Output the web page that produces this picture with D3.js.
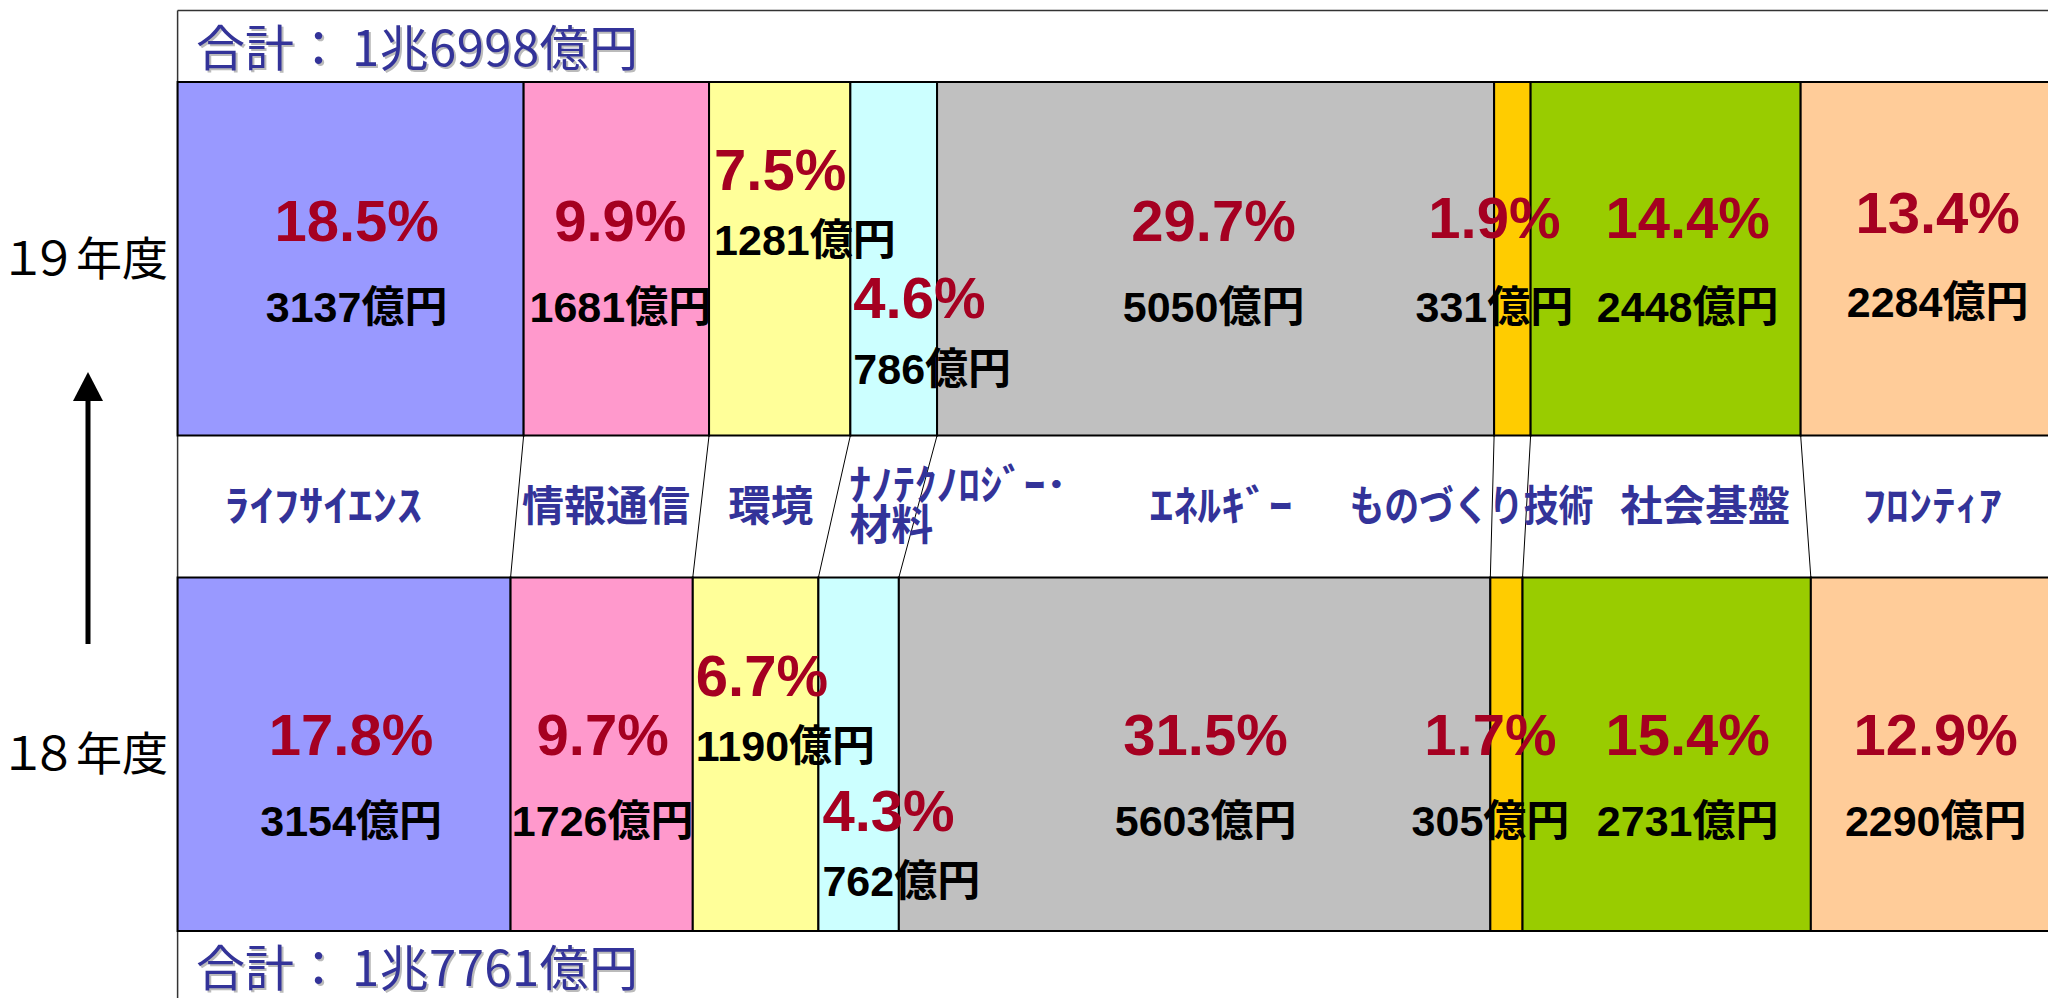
<!DOCTYPE html>
<html><head><meta charset="utf-8">
<script src="https://cdn.jsdelivr.net/npm/d3@7"></script>
<style>html,body{margin:0;padding:0;background:#fff;overflow:hidden}</style>
</head><body><svg id="chart" width="2048" height="998"></svg>
<script>
// ---------- data ----------
const categories = ["ライフサイエンス","情報通信","環境","ナノテクノロジー・材料","エネルギー","ものづくり技術","社会基盤","フロンティア"];
const categoryLabels = [["ﾗｲﾌｻｲｴﾝｽ"],["情報通信"],["環境"],["ﾅﾉﾃｸﾉﾛｼﾞｰ･","材料"],["ｴﾈﾙｷﾞｰ"],["ものづくり技術"],["社会基盤"],["ﾌﾛﾝﾃｨｱ"]];
const years = ["１９年度","１８年度"];
const values19 = [3137,1681,1281,786,5050,331,2448,2284];
const values18 = [3154,1726,1190,762,5603,305,2731,2290];
const shares19 = ["18.5%","9.9%","7.5%","4.6%","29.7%","1.9%","14.4%","13.4%"];
const shares18 = ["17.8%","9.7%","6.7%","4.3%","31.5%","1.7%","15.4%","12.9%"];
const totalLabels = ["1兆6998億円","1兆7761億円"];
const unit = "億円";

// ---------- style / layout ----------
const colors = ["#9999FF","#FF99CC","#FFFF99","#CCFFFF","#C0C0C0","#FFCC00","#99CC00","#FFCC99"];
const labelLayout = [
  [{dx:6},{dx:4},{anchor:"start",dx:5,dyP:-51,dyV:-67},{anchor:"start",dx:3,dyP:77,dyV:62},{dx:-2},{dx:-18,dyP:-3},{dx:22,dyP:-3},{dx:11,dyP:-8,dyV:-5}],
  [{dx:7},{dx:1},{anchor:"start",dx:3,dyP:-59,dyV:-75},{anchor:"start",dx:4,dyP:76,dyV:60},{dx:11},{dx:-16},{dx:21},{dx:4}]
];
const pctBaseDy = [-17.5, 0.5];
const valGap = 81;
const catLayout = [{dx:-24,w:197},{dx:-3,w:168},{dx:3,w:85},{anchor:"start",dx:15,w:[218,84]},{dx:16,w:143},{dx:-38,w:244},{dx:39,w:170},{dx:3,w:139}];
const yearCharX = [0, 31, 76, 122];

const svg = d3.select("#chart");
const X0 = 177.6, X1 = 2052.6;
const series = [values19, values18];
const shares = [shares19, shares18];

const y = d3.scaleBand().domain(years).range([82, 931]).paddingInner(0.2866).paddingOuter(0);
const bw = y.bandwidth();

const rows = series.map((vals, i) => {
  const total = d3.sum(vals);
  const x = d3.scaleLinear().domain([0, total]).range([X0, X1]);
  let cum = 0;
  const segs = vals.map((v, j) => { const s = {j, v, x0: x(cum), x1: x(cum + v)}; cum += v; return s; });
  return {year: years[i], x, segs, total};
});

// frame
svg.append("line").attr("x1", X0).attr("x2", 2048).attr("y1", 10.5).attr("y2", 10.5).attr("stroke", "#333").attr("stroke-width", 1.5);
svg.append("line").attr("x1", X0).attr("x2", X0).attr("y1", 10.5).attr("y2", 998).attr("stroke", "#333").attr("stroke-width", 1.5);

// bars
rows.forEach(r => {
  svg.append("g").selectAll("rect").data(r.segs).join("rect")
    .attr("x", d => d.x0).attr("y", y(r.year)).attr("width", d => d.x1 - d.x0).attr("height", bw)
    .attr("fill", d => colors[d.j]).attr("stroke", "#000").attr("stroke-width", 2);
});

// connectors
const rowTop = rows[0], rowBot = rows[1];
svg.append("g").selectAll("line").data(rowTop.segs.slice(1)).join("line")
  .attr("x1", d => d.x0).attr("y1", y(rowTop.year) + bw)
  .attr("x2", d => rowBot.segs[d.j].x0).attr("y2", y(rowBot.year))
  .attr("stroke", "#000").attr("stroke-width", 1);

// category labels
const midY = (y(rowTop.year) + bw + y(rowBot.year)) / 2;
categoryLabels.forEach((lines, j) => {
  const L = catLayout[j];
  const cTop = (rowTop.segs[j].x0 + rowTop.segs[j].x1) / 2, cBot = (rowBot.segs[j].x0 + rowBot.segs[j].x1) / 2;
  const left = (rowTop.segs[j].x0 + rowBot.segs[j].x0) / 2;
  lines.forEach((t, k) => {
    const w = Array.isArray(L.w) ? L.w[k] : L.w;
    const anchor = L.anchor || "middle";
    const xx = anchor === "start" ? left + L.dx : (cTop + cBot) / 2 + L.dx;
    const yy = lines.length === 1 ? midY + 14 : midY - 7 + k * 40;
    svg.append("text").attr("x", anchor === "start" ? xx : xx - w / 2).attr("y", yy)
      .attr("textLength", w).attr("lengthAdjust", "spacingAndGlyphs")
      .attr("font-family", "'Noto Sans CJK JP', sans-serif").attr("font-weight", "bold")
      .attr("font-size", 42).attr("fill", "#333399").text(t);
  });
});

// in-bar labels
rows.forEach((r, i) => {
  const cy = y(r.year) + bw / 2;
  r.segs.forEach(s => {
    const L = labelLayout[i][s.j];
    const anchor = L.anchor || "middle";
    const xx = anchor === "start" ? s.x0 + L.dx : (s.x0 + s.x1) / 2 + L.dx;
    const py = cy + pctBaseDy[i] + (L.dyP || 0);
    const vy = cy + pctBaseDy[i] + valGap + (L.dyV || 0);
    svg.append("text").attr("x", xx).attr("y", py).attr("text-anchor", anchor)
      .attr("font-family", "'Liberation Sans', Arial, sans-serif").attr("font-weight", "bold")
      .attr("font-size", 58).attr("fill", "#A50021").text(shares[i][s.j]);
    svg.append("text").attr("x", xx).attr("y", vy).attr("text-anchor", anchor)
      .attr("font-family", "'Liberation Sans', 'Noto Sans CJK JP', sans-serif").attr("font-weight", "bold")
      .attr("font-size", 43).attr("fill", "#000").text(s.v + unit);
  });
});

// year labels
rows.forEach(r => {
  svg.append("text").attr("x", yearCharX.join(" ")).attr("y", y(r.year) + bw / 2 + 16)
    .attr("font-family", "'Noto Sans CJK JP', sans-serif").attr("font-size", 46).attr("fill", "#000").text(r.year);
});

// arrow
svg.append("line").attr("x1", 88).attr("x2", 88).attr("y1", 644).attr("y2", 396).attr("stroke", "#000").attr("stroke-width", 5);
svg.append("path").attr("d", "M88,372 L73,401 L103,401 Z").attr("fill", "#000");

// totals
const totalY = [66, 986];
totalLabels.forEach((t, i) => {
  [["#bbb", 2], ["#333399", 0]].forEach(([c, o]) => {
    const tx = svg.append("text").attr("y", totalY[i] + o)
      .attr("font-family", "'Noto Sans CJK JP', sans-serif").attr("font-size", 49).attr("fill", c);
    tx.append("tspan").attr("x", 196 + o).text("合計：");
    tx.append("tspan").attr("x", 352 + o).attr("textLength", 286).attr("lengthAdjust", "spacing").text(t);
  });
});
</script>
</body></html>
